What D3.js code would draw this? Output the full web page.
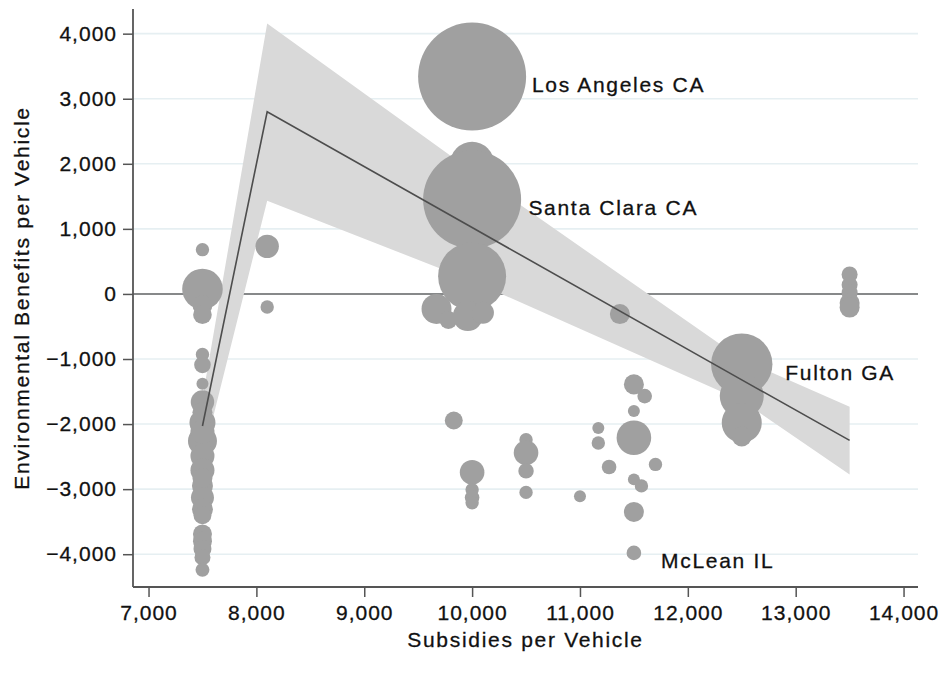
<!DOCTYPE html>
<html>
<head>
<meta charset="utf-8">
<script src="https://cdn.jsdelivr.net/npm/d3@7"></script>
<style>
  html, body { margin: 0; padding: 0; background: #fff; }
  svg { display: block; }
  text {
    font-family: "Liberation Sans", Arial, Helvetica, sans-serif;
    font-size: 21px;
    letter-spacing: 1px;
    fill: #111;
    stroke: #111;
    stroke-width: 0.3px;
  }
  text.title, text.county { letter-spacing: 1.7px; }
</style>
</head>
<body>
<svg id="chart" width="945" height="679"></svg>
<script>
// County observations: subsidy per vehicle, environmental benefit per vehicle, vehicle count (bubble weight)
const subsidy = [
  7500, 7500, 7500, 7500, 7500, 7500, 7500, 7500, 7500, 7500,
  7500, 7500, 7500, 7500, 7500, 7500, 7500, 7500, 7500, 7500,
  7500, 7500, 7500, 7500,
  8100, 8100,
  10000, 10000, 10000, 10000, 9670, 9780, 9960, 10100,
  9830, 10000, 10000, 10000, 10000,
  10500, 10500, 10500, 10500,
  11000, 11170, 11170, 11270, 11370,
  11500, 11600, 11500, 11500, 11700, 11500, 11570, 11500, 11500,
  12500, 12500, 12500, 12500,
  13500, 13500, 13500, 13500, 13500
];
const benefit = [
  680, 75, -170, -320, -930, -1090, -1380, -1660, -1980, -2260,
  -2490, -2710, -2950, -3130, -3310, -3690, -3800, -3920, -4050, -4240,
  -1820, -2120, -2830, -3400,
  731, -200,
  3340, 2000, 1450, 270, -230, -400, -340, -290,
  -1945, -2740, -3010, -3130, -3210,
  -2240, -2440, -2720, -3050,
  -3110, -2060, -2290, -2660, -310,
  -1390, -1570, -1800, -2210, -2620, -2850, -2950, -3350, -3980,
  -1080, -1570, -1980, -2190,
  300, 140, 20, -140, -210
];
const vehicles = [
  46, 424, 103, 89, 46, 71, 37, 141, 174, 216,
  148, 148, 113, 136, 113, 93, 93, 83, 66, 50,
  103, 148, 103, 83,
  141, 46,
  3000, 498, 2470, 1189, 231, 83, 231, 125,
  83, 156, 46, 55, 46,
  46, 156, 61, 46,
  37, 37, 46, 55, 103,
  103, 55, 37, 308, 46, 37, 46, 103, 55,
  969, 498, 412, 103,
  66, 66, 66, 103, 103
];

// Labelled counties (index into the observation arrays)
const labelNames = ["Los Angeles CA", "Santa Clara CA", "Fulton GA", "McLean IL"];
const labelIndex = [26, 28, 57, 56];

// Fitted line with 95% confidence band
const fitX    = [7500, 8100, 10000, 12500, 13500];
const fitY    = [-2030, 2800, 1020, -1320, -2250];
const fitLow  = [-2550, 1432, 200, -1640, -2774];
const fitHigh = [-1600, 4155, 1885, -1005, -1735];

// Axis ticks
const xTicks = [7000, 8000, 9000, 10000, 11000, 12000, 13000, 14000];
const yTicks = [-4000, -3000, -2000, -1000, 0, 1000, 2000, 3000, 4000];

const svg = d3.select("#chart");
const plot = { left: 133, right: 918, top: 9, bottom: 587 };

const x = d3.scaleLinear().domain([6856, 14134]).range([plot.left, plot.right]);
const y = d3.scaleLinear().domain([-4504, 4379]).range([plot.bottom, plot.top]);
const r = d3.scaleSqrt().domain([0, 3000]).range([0, 54]);

const fmt = d3.format(",");

// Horizontal grid lines
svg.append("g")
  .selectAll("line")
  .data(yTicks)
  .join("line")
  .attr("x1", plot.left).attr("x2", plot.right)
  .attr("y1", d => y(d)).attr("y2", d => y(d))
  .attr("stroke", "#e6eff2")
  .attr("stroke-width", 1.6);

// Reference line at zero
svg.append("line")
  .attr("x1", plot.left).attr("x2", plot.right)
  .attr("y1", y(0)).attr("y2", y(0))
  .attr("stroke", "#666")
  .attr("stroke-width", 1.6);

// Confidence band
const band = fitX.map((d, i) => ({ x: d, lo: fitLow[i], hi: fitHigh[i] }));
svg.append("path")
  .datum(band)
  .attr("d", d3.area().x(d => x(d.x)).y0(d => y(d.lo)).y1(d => y(d.hi)))
  .attr("fill", "#d9d9d9");

// Bubbles
const pts = subsidy.map((d, i) => ({ x: d, y: benefit[i], w: vehicles[i] }));
svg.append("g")
  .selectAll("circle")
  .data(pts)
  .join("circle")
  .attr("cx", d => x(d.x))
  .attr("cy", d => y(d.y))
  .attr("r", d => r(d.w))
  .attr("fill", "#a0a0a0");

// Fitted line
const fit = fitX.map((d, i) => ({ x: d, y: fitY[i] }));
svg.append("path")
  .datum(fit)
  .attr("d", d3.line().x(d => x(d.x)).y(d => y(d.y)))
  .attr("fill", "none")
  .attr("stroke", "#4d4d4d")
  .attr("stroke-width", 1.6);

// County labels
svg.append("g")
  .selectAll("text")
  .data(labelNames)
  .join("text")
  .attr("class", "county")
  .attr("x", (d, i) => x(subsidy[labelIndex[i]]) + 22 + 0.7 * r(vehicles[labelIndex[i]]))
  .attr("y", (d, i) => y(benefit[labelIndex[i]]) + 8)
  .attr("dy", "0.36em")
  .text(d => d);

// Y axis
const yAxis = svg.append("g")
  .attr("transform", `translate(${plot.left},0)`)
  .call(d3.axisLeft(y).tickValues(yTicks).tickFormat(fmt).tickSize(10).tickPadding(6));
yAxis.select(".domain").attr("d", `M0,${plot.top}V${plot.bottom}`);

// X axis
const xAxis = svg.append("g")
  .attr("transform", `translate(0,${plot.bottom})`)
  .call(d3.axisBottom(x).tickValues(xTicks).tickFormat(fmt).tickSize(10).tickPadding(8));
xAxis.select(".domain").attr("d", `M${plot.left},0H${plot.right}`);

svg.selectAll(".domain").attr("stroke", "#555").attr("stroke-width", 1.8);
svg.selectAll(".tick line").attr("stroke", "#555").attr("stroke-width", 1.5);
svg.selectAll(".tick text")
  .attr("font-size", null)
  .attr("font-family", null)
  .attr("fill", null);

// Axis titles
svg.append("text")
  .attr("class", "title")
  .attr("x", (plot.left + plot.right) / 2)
  .attr("y", 647)
  .attr("text-anchor", "middle")
  .text("Subsidies per Vehicle");

svg.append("text")
  .attr("class", "title")
  .attr("transform", `translate(29,${(plot.top + plot.bottom) / 2}) rotate(-90)`)
  .attr("text-anchor", "middle")
  .text("Environmental Benefits per Vehicle");
</script>
</body>
</html>
